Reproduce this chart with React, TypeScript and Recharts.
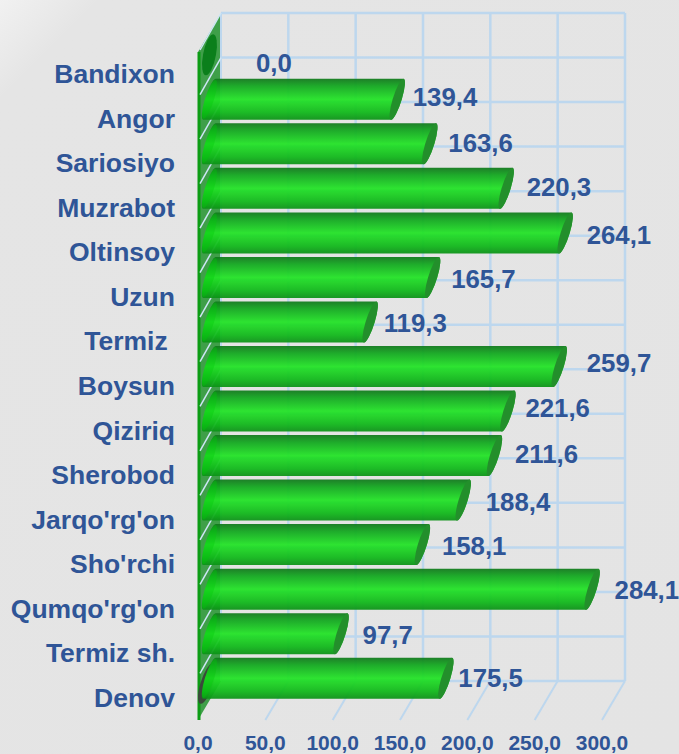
import React from 'react';
import { BarChart, Bar, XAxis, YAxis, LabelList } from 'recharts';

const districts = ['Bandixon', 'Angor', 'Sariosiyo', 'Muzrabot', 'Oltinsoy', 'Uzun', 'Termiz ', 'Boysun', 'Qiziriq', 'Sherobod', "Jarqo'rg'on", "Sho'rchi", "Qumqo'rg'on", 'Termiz sh.', 'Denov'];
const amounts = [0.0, 139.4, 163.6, 220.3, 264.1, 165.7, 119.3, 259.7, 221.6, 211.6, 188.4, 158.1, 284.1, 97.7, 175.5];
const axisTicks = [0, 50, 100, 150, 200, 250, 300];
// hand-placed label offsets from the reference (relative to each bar's end)
const labelDx = [39, 8, 11, 13, 14, 11, 6, 20, 10, 13, 15, 12, 15, 14, 5];
const labelDy = [8, -2, -1, -1, 2, 1.5, 1, -3.5, -3, -1.5, 2, 1.5, 1, 1, 0];

const rows = districts.map((name, i) => ({ name, value: amounts[i] }));

const W = 679, H = 754;
const PLOT_L = 198, PLOT_T = 52, PLOT_B = 720, PLOT_R = 602;
const DX = 23, DY = 39;
const BAND = (PLOT_B - PLOT_T) / districts.length;
const GAP = 1.75;
const GRID = '#bdd7ee';
const BLUE = '#2f5597';
const FONT = '"Liberation Sans", Arial, sans-serif';
const RX = 4.6;
const SHIFT = 11.5;
const SKEW = -16.7;

const fmt = (v: number) => v.toFixed(1).replace('.', ',');

function XTick(props: any) {
  const { x, y, payload, index } = props;
  return (
    <g>
      {index === 0 && (
        <g>
          <polygon points={`${PLOT_L},${PLOT_T} ${PLOT_L + DX},${PLOT_T - DY} ${PLOT_L + DX},${PLOT_B - DY} ${PLOT_L},${PLOT_B}`} fill="#3f9f49" />
          <rect x={PLOT_L - 0.5} y={PLOT_T} width={3} height={PLOT_B - PLOT_T} fill="#0c9c14" />
        </g>
      )}
      {index > 0 && <line x1={x} y1={PLOT_B} x2={x + DX} y2={PLOT_B - DY} stroke={GRID} strokeWidth={2} />}
      <line x1={x + DX} y1={PLOT_T - DY} x2={x + DX} y2={PLOT_B - DY} stroke={GRID} strokeWidth={index === 0 ? 2 : 2.5} />
      {index === 0 && (
        <line x1={PLOT_L + DX} y1={PLOT_B - DY} x2={PLOT_R + DX} y2={PLOT_B - DY} stroke={GRID} strokeWidth={2.5} />
      )}
      <text x={x} y={y + 14} textAnchor="middle" dominantBaseline="central" fontFamily={FONT} fontWeight={700} fontSize={21} fill={BLUE}>
        {fmt(payload.value)}
      </text>
    </g>
  );
}

function YTick(props: any) {
  const { y, payload } = props;
  const front = y - BAND / 2;
  return (
    <g>
      <line x1={PLOT_L + DX} y1={front - DY} x2={PLOT_R + DX} y2={front - DY} stroke={GRID} strokeWidth={2.5} />
      <line x1={PLOT_L + 2} y1={front - 2} x2={PLOT_L + DX} y2={front - DY} stroke="#cfe6f5" strokeWidth={1.5} />
      <text x={175} y={y} textAnchor="end" dominantBaseline="central" fontFamily={FONT} fontWeight={700} fontSize={26.5} fill={BLUE} style={{ whiteSpace: 'pre' }}>
        {payload.value}
      </text>
    </g>
  );
}

function Cylinder(props: any) {
  const { x, y, width, height, index } = props;
  const top = y - 19.5;
  const bottom = top + height;
  const cy = (top + bottom) / 2;
  const ry = height / 2;
  const x0 = x + SHIFT;
  const x1 = x0 + width;
  const tilt = `translate(0,${cy}) skewX(${SKEW}) translate(0,${-cy})`;
  if (width <= 0) {
    const flat = `translate(0,${cy}) skewX(-10) translate(0,${-cy})`;
    return <ellipse transform={flat} cx={x0} cy={cy} rx={6.5} ry={ry} fill="#0b7f1b" />;
  }
  return (
    <g>
      {index === districts.length - 1 && <ellipse transform={tilt} cx={x0 - 1} cy={cy + 5} rx={RX + 2} ry={ry} fill="#3a4a3a" />}
      <g transform={tilt}>
        <path
          d={`M${x0},${top} L${x1},${top} A${RX},${ry} 0 0 1 ${x1},${bottom} L${x0},${bottom} A${RX},${ry} 0 0 1 ${x0},${top} Z`}
          fill="url(#cyl)"
          opacity={0.94}
        />
        <ellipse cx={x0} cy={cy} rx={RX} ry={ry - 1} fill="#00c80a" opacity={0.35} />
        <ellipse cx={x1} cy={cy} rx={RX} ry={ry} fill="#238f2b" />
      </g>
    </g>
  );
}

function ValueLabel(props: any) {
  const { x, y, width, value, index } = props;
  const end = x + width + SHIFT + 7.5;
  return (
    <text
      x={end + labelDx[index]}
      y={y - 19.5 + 41 / 2 + labelDy[index]}
      dominantBaseline="central"
      fontFamily={FONT}
      fontWeight={700}
      fontSize={25.8}
      fill={BLUE}
    >
      {fmt(value)}
    </text>
  );
}

const layer: React.CSSProperties = { position: 'absolute', left: 0, top: 0 };

export default function App() {
  return (
    <div style={{ position: 'absolute', left: 0, top: 0, width: W, height: H, overflow: 'hidden', background: 'linear-gradient(135deg, #f1f1f1 0px, #e5e5e5 70px, #e4e4e4 100%)' }}>
      <div style={layer}>
        <BarChart
          width={W}
          height={H}
          data={rows}
          layout="vertical"
          barCategoryGap={GAP}
          margin={{ top: PLOT_T, right: W - PLOT_R, bottom: 0, left: 0 }}
        >
          <XAxis type="number" dataKey="value" domain={[0, 300]} ticks={axisTicks} height={H - PLOT_B} axisLine={false} tickLine={false} tick={<XTick />} interval={0} />
          <YAxis type="category" dataKey="name" width={PLOT_L} axisLine={false} tickLine={false} tick={<YTick />} interval={0} />
        </BarChart>
      </div>
      <div style={layer}>
        <BarChart
          width={W}
          height={H}
          data={rows}
          layout="vertical"
          barCategoryGap={GAP}
          margin={{ top: PLOT_T, right: W - PLOT_R, bottom: H - PLOT_B, left: PLOT_L }}
        >
          <defs>
            <linearGradient id="cyl" x1="0" y1="0" x2="0" y2="1">
              <stop offset="0" stopColor="#11791c" />
              <stop offset="0.18" stopColor="#12a81f" />
              <stop offset="0.5" stopColor="#22e326" />
              <stop offset="0.82" stopColor="#10b81a" />
              <stop offset="1" stopColor="#0c9217" />
            </linearGradient>
          </defs>
          <XAxis hide type="number" dataKey="value" domain={[0, 300]} />
          <YAxis hide type="category" dataKey="name" />
          <Bar dataKey="value" isAnimationActive={false} shape={<Cylinder />}>
            <LabelList dataKey="value" content={<ValueLabel />} />
          </Bar>
        </BarChart>
      </div>
    </div>
  );
}
